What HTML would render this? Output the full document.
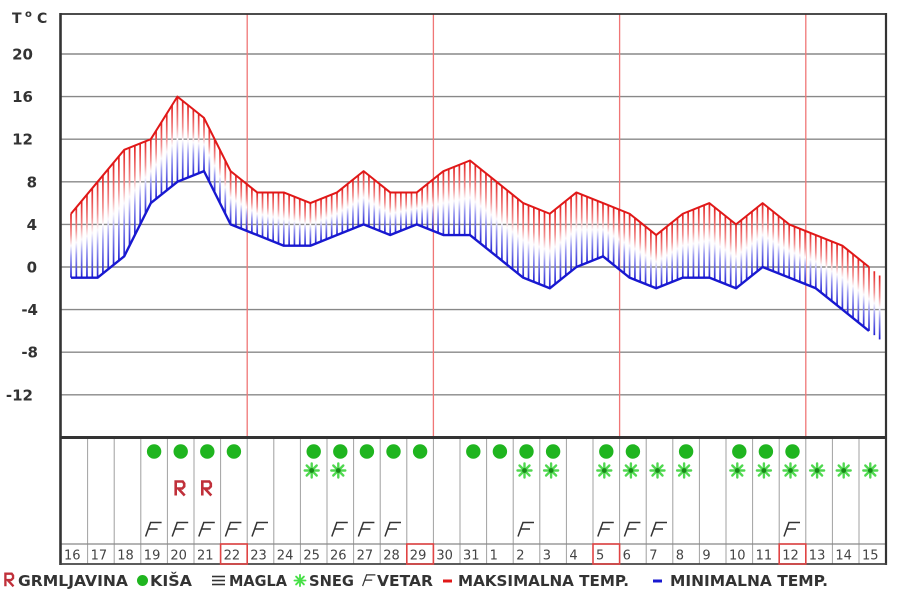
<!DOCTYPE html>
<html><head><meta charset="utf-8"><style>
html,body{margin:0;padding:0;background:#fff;}
svg{display:block;}
.ax{font-family:"DejaVu Sans","Liberation Sans",sans-serif;font-weight:bold;font-size:15px;fill:#333;}
.dt{font-family:"DejaVu Sans","Liberation Sans",sans-serif;font-size:13px;fill:#444;}
.lg{font-family:"DejaVu Sans","Liberation Sans",sans-serif;font-weight:bold;font-size:15px;fill:#333;}
</style></head><body>
<svg id="s" width="900" height="605" viewBox="0 0 900 605" xmlns="http://www.w3.org/2000/svg">
<defs>
<linearGradient id="hg" x1="0" y1="0" x2="0" y2="1">
<stop offset="0" stop-color="#e42020"/>
<stop offset="0.33" stop-color="#f29090"/>
<stop offset="0.5" stop-color="#fbf8fc"/>
<stop offset="0.67" stop-color="#9c9cf0"/>
<stop offset="1" stop-color="#2020d4"/>
</linearGradient>
<g id="rain"><circle cx="0" cy="0" r="7.2" fill="#1fb51f"/></g>
<g id="snow"><g stroke="#50d850" stroke-width="2.4" stroke-linecap="round"><line x1="-7" y1="0" x2="7" y2="0"/><line x1="0" y1="-7" x2="0" y2="7"/><line x1="-5" y1="-5" x2="5" y2="5"/><line x1="-5" y1="5" x2="5" y2="-5"/></g><circle r="2.4" fill="#1a8a1a"/></g>
<g id="thun"><path d="M-4,7 V-7 H3 L4.5,-5 V-2 L2.5,0 H-1.5 L5,7" fill="none" stroke="#c0303a" stroke-width="2.6" stroke-linejoin="miter"/></g>
<g id="wind"><path d="M-8,7 L-3,-7 H8 M-5.2,-0.5 H4" fill="none" stroke="#333" stroke-width="1.5"/></g>
</defs>

<g stroke="#888" stroke-width="1.4">
<line x1="61" y1="54" x2="886" y2="54"/>
<line x1="61" y1="96.6" x2="886" y2="96.6"/>
<line x1="61" y1="139.2" x2="886" y2="139.2"/>
<line x1="61" y1="181.8" x2="886" y2="181.8"/>
<line x1="61" y1="224.4" x2="886" y2="224.4"/>
<line x1="61" y1="267" x2="886" y2="267"/>
<line x1="61" y1="309.6" x2="886" y2="309.6"/>
<line x1="61" y1="352.2" x2="886" y2="352.2"/>
<line x1="61" y1="394.8" x2="886" y2="394.8"/>
</g>
<g stroke="#f07676" stroke-width="1.3">
<line x1="247.2" y1="14" x2="247.2" y2="436"/>
<line x1="433.4" y1="14" x2="433.4" y2="436"/>
<line x1="619.6" y1="14" x2="619.6" y2="436"/>
<line x1="805.8" y1="14" x2="805.8" y2="436"/>
</g>

<g id="hatch"></g>

<polyline fill="none" stroke="#e01818" stroke-width="2" stroke-linejoin="round" points="71,213.75 97.6,181.8 124.2,149.85 150.8,139.2 177.4,96.6 204,117.9 230.6,171.15 257.2,192.45 283.8,192.45 310.4,203.1 337,192.45 363.6,171.15 390.2,192.45 416.8,192.45 443.4,171.15 470,160.5 496.6,181.8 523.2,203.1 549.8,213.75 576.4,192.45 603,203.1 629.6,213.75 656.2,235.05 682.8,213.75 709.4,203.1 736,224.4 762.6,203.1 789.2,224.4 815.8,235.05 842.4,245.7 869,267"/>
<polyline fill="none" stroke="#1818d0" stroke-width="2.4" stroke-linejoin="round" points="71,277.65 97.6,277.65 124.2,256.35 150.8,203.1 177.4,181.8 204,171.15 230.6,224.4 257.2,235.05 283.8,245.7 310.4,245.7 337,235.05 363.6,224.4 390.2,235.05 416.8,224.4 443.4,235.05 470,235.05 496.6,256.35 523.2,277.65 549.8,288.3 576.4,267 603,256.35 629.6,277.65 656.2,288.3 682.8,277.65 709.4,277.65 736,288.3 762.6,267 789.2,277.65 815.8,288.3 842.4,309.6 869,330.9"/>

<g stroke="#a0a0a0" stroke-width="1">
<line x1="87.6" y1="439" x2="87.6" y2="564"/><line x1="114.2" y1="439" x2="114.2" y2="564"/><line x1="140.8" y1="439" x2="140.8" y2="564"/><line x1="167.4" y1="439" x2="167.4" y2="564"/><line x1="194" y1="439" x2="194" y2="564"/><line x1="220.6" y1="439" x2="220.6" y2="564"/><line x1="247.2" y1="439" x2="247.2" y2="564"/><line x1="273.8" y1="439" x2="273.8" y2="564"/><line x1="300.4" y1="439" x2="300.4" y2="564"/><line x1="327" y1="439" x2="327" y2="564"/><line x1="353.6" y1="439" x2="353.6" y2="564"/><line x1="380.2" y1="439" x2="380.2" y2="564"/><line x1="406.8" y1="439" x2="406.8" y2="564"/><line x1="433.4" y1="439" x2="433.4" y2="564"/><line x1="460" y1="439" x2="460" y2="564"/><line x1="486.6" y1="439" x2="486.6" y2="564"/><line x1="513.2" y1="439" x2="513.2" y2="564"/><line x1="539.8" y1="439" x2="539.8" y2="564"/><line x1="566.4" y1="439" x2="566.4" y2="564"/><line x1="593" y1="439" x2="593" y2="564"/><line x1="619.6" y1="439" x2="619.6" y2="564"/><line x1="646.2" y1="439" x2="646.2" y2="564"/><line x1="672.8" y1="439" x2="672.8" y2="564"/><line x1="699.4" y1="439" x2="699.4" y2="564"/><line x1="726" y1="439" x2="726" y2="564"/><line x1="752.6" y1="439" x2="752.6" y2="564"/><line x1="779.2" y1="439" x2="779.2" y2="564"/><line x1="805.8" y1="439" x2="805.8" y2="564"/><line x1="832.4" y1="439" x2="832.4" y2="564"/><line x1="859" y1="439" x2="859" y2="564"/>
</g>
<line x1="61" y1="544" x2="886" y2="544" stroke="#888" stroke-width="1.2"/>

<line x1="60" y1="14" x2="886" y2="14" stroke="#333" stroke-width="1.8"/>
<line x1="60.5" y1="13" x2="60.5" y2="565" stroke="#333" stroke-width="2.6"/>
<line x1="886" y1="13" x2="886" y2="565" stroke="#333" stroke-width="2.2"/>
<line x1="60" y1="437.5" x2="887" y2="437.5" stroke="#333" stroke-width="3"/>
<line x1="60" y1="564" x2="887" y2="564" stroke="#444" stroke-width="1.8"/>

<g fill="none" stroke="#e04444" stroke-width="1.6">
<rect x="220.6" y="544" width="26.6" height="20"/>
<rect x="406.8" y="544" width="26.6" height="20"/>
<rect x="593" y="544" width="26.6" height="20"/>
<rect x="779.2" y="544" width="26.6" height="20"/>
</g>

<text class="ax" x="12" y="23" style="font-size:14px">T</text>
<text class="ax" x="25" y="17" style="font-size:10px">o</text>
<text class="ax" x="37" y="23" style="font-size:14px">C</text>
<text class="ax" x="33" y="59.5" text-anchor="end">20</text>
<text class="ax" x="33" y="102" text-anchor="end">16</text>
<text class="ax" x="33" y="144.7" text-anchor="end">12</text>
<text class="ax" x="37" y="187.3" text-anchor="end">8</text>
<text class="ax" x="37" y="229.9" text-anchor="end">4</text>
<text class="ax" x="37" y="272.5" text-anchor="end">0</text>
<text class="ax" x="38" y="315.1" text-anchor="end">-4</text>
<text class="ax" x="38" y="357.7" text-anchor="end">-8</text>
<text class="ax" x="33" y="400.3" text-anchor="end">-12</text>

<g class="dt">
<text x="64" y="559.5">16</text><text x="90.6" y="559.5">17</text><text x="117.2" y="559.5">18</text><text x="143.8" y="559.5">19</text><text x="170.4" y="559.5">20</text><text x="197" y="559.5">21</text><text x="223.6" y="559.5">22</text><text x="250.2" y="559.5">23</text><text x="276.8" y="559.5">24</text><text x="303.4" y="559.5">25</text><text x="330" y="559.5">26</text><text x="356.6" y="559.5">27</text><text x="383.2" y="559.5">28</text><text x="409.8" y="559.5">29</text><text x="436.4" y="559.5">30</text><text x="463" y="559.5">31</text><text x="489.6" y="559.5">1</text><text x="516.2" y="559.5">2</text><text x="542.8" y="559.5">3</text><text x="569.4" y="559.5">4</text><text x="596" y="559.5">5</text><text x="622.6" y="559.5">6</text><text x="649.2" y="559.5">7</text><text x="675.8" y="559.5">8</text><text x="702.4" y="559.5">9</text><text x="729" y="559.5">10</text><text x="755.6" y="559.5">11</text><text x="782.2" y="559.5">12</text><text x="808.8" y="559.5">13</text><text x="835.4" y="559.5">14</text><text x="862" y="559.5">15</text>
</g>

<g>
<use href="#rain" x="154.1" y="451.5"/><use href="#rain" x="180.7" y="451.5"/><use href="#rain" x="207.3" y="451.5"/><use href="#rain" x="233.9" y="451.5"/><use href="#rain" x="313.7" y="451.5"/><use href="#rain" x="340.3" y="451.5"/><use href="#rain" x="366.9" y="451.5"/><use href="#rain" x="393.5" y="451.5"/><use href="#rain" x="420.1" y="451.5"/><use href="#rain" x="473.3" y="451.5"/><use href="#rain" x="499.9" y="451.5"/><use href="#rain" x="526.5" y="451.5"/><use href="#rain" x="553.1" y="451.5"/><use href="#rain" x="606.3" y="451.5"/><use href="#rain" x="632.9" y="451.5"/><use href="#rain" x="686.1" y="451.5"/><use href="#rain" x="739.3" y="451.5"/><use href="#rain" x="765.9" y="451.5"/><use href="#rain" x="792.5" y="451.5"/>
</g>
<g>
<use href="#snow" x="311.7" y="470.5"/><use href="#snow" x="338.3" y="470.5"/><use href="#snow" x="524.5" y="470.5"/><use href="#snow" x="551.1" y="470.5"/><use href="#snow" x="604.3" y="470.5"/><use href="#snow" x="630.9" y="470.5"/><use href="#snow" x="657.5" y="470.5"/><use href="#snow" x="684.1" y="470.5"/><use href="#snow" x="737.3" y="470.5"/><use href="#snow" x="763.9" y="470.5"/><use href="#snow" x="790.5" y="470.5"/><use href="#snow" x="817.1" y="470.5"/><use href="#snow" x="843.7" y="470.5"/><use href="#snow" x="870.3" y="470.5"/>
</g>
<use href="#thun" x="179.7" y="488.5"/><use href="#thun" x="206.3" y="488.5"/>
<g>
<use href="#wind" x="153.6" y="529.5"/><use href="#wind" x="180.2" y="529.5"/><use href="#wind" x="206.8" y="529.5"/><use href="#wind" x="233.4" y="529.5"/><use href="#wind" x="260" y="529.5"/><use href="#wind" x="339.8" y="529.5"/><use href="#wind" x="366.4" y="529.5"/><use href="#wind" x="393" y="529.5"/><use href="#wind" x="526" y="529.5"/><use href="#wind" x="605.8" y="529.5"/><use href="#wind" x="632.4" y="529.5"/><use href="#wind" x="659" y="529.5"/><use href="#wind" x="792" y="529.5"/>
</g>

<g transform="translate(9,580) scale(0.9)"><use href="#thun"/></g>
<text class="lg" x="18" y="586" textLength="110" lengthAdjust="spacingAndGlyphs">GRMLJAVINA</text>
<circle cx="142.5" cy="580.5" r="5.5" fill="#1fb51f"/>
<text class="lg" x="150" y="586" textLength="42" lengthAdjust="spacingAndGlyphs">KIŠA</text>
<g stroke="#333" stroke-width="1.6"><line x1="212" y1="576.5" x2="225" y2="576.5"/><line x1="212" y1="580.5" x2="225" y2="580.5"/><line x1="212" y1="584.5" x2="225" y2="584.5"/></g>
<text class="lg" x="229" y="586" textLength="58" lengthAdjust="spacingAndGlyphs">MAGLA</text>
<g transform="translate(300,580.5) scale(0.85)"><g stroke="#48e048" stroke-width="2.2" stroke-linecap="round"><line x1="-6.5" y1="0" x2="6.5" y2="0"/><line x1="0" y1="-6.5" x2="0" y2="6.5"/><line x1="-4.6" y1="-4.6" x2="4.6" y2="4.6"/><line x1="-4.6" y1="4.6" x2="4.6" y2="-4.6"/></g></g>
<text class="lg" x="309" y="586" textLength="45" lengthAdjust="spacingAndGlyphs">SNEG</text>
<g transform="translate(369,580.5) scale(0.8)"><use href="#wind"/></g>
<text class="lg" x="377" y="586" textLength="56" lengthAdjust="spacingAndGlyphs">VETAR</text>
<rect x="443" y="579.5" width="9" height="3" fill="#e01818"/>
<text class="lg" x="458" y="586" textLength="171" lengthAdjust="spacingAndGlyphs">MAKSIMALNA TEMP.</text>
<rect x="653" y="579.5" width="9" height="3" fill="#1818d0"/>
<text class="lg" x="670" y="586" textLength="158" lengthAdjust="spacingAndGlyphs">MINIMALNA TEMP.</text>
</svg>
<script>
(function(){
var mx=[5,8,11,12,16,14,9,7,7,6,7,9,7,7,9,10,8,6,5,7,6,5,3,5,6,4,6,4,3,2,0];
var mn=[-1,-1,1,6,8,9,4,3,2,2,3,4,3,4,3,3,1,-1,-2,0,1,-1,-2,-1,-1,-2,0,-1,-2,-4,-6];
function Y(t){return 267-t*10.65;}
function I(a,x){var f=(x-71)/26.6;var i=Math.floor(f);if(i>a.length-2)i=a.length-2;if(i<0)i=0;var r=f-i;return a[i]+(a[i+1]-a[i])*r;}
var g=document.getElementById('hatch');var ns='http://www.w3.org/2000/svg';
for(var x=71;x<=883;x+=5.32){
var t=Y(I(mx,x)),b=Y(I(mn,x));
var r=document.createElementNS(ns,'rect');
r.setAttribute('x',(x-0.85).toFixed(2));r.setAttribute('y',t.toFixed(2));
r.setAttribute('width','1.7');r.setAttribute('height',(b-t).toFixed(2));
r.setAttribute('fill','url(#hg)');g.appendChild(r);}
})();
</script>
</body></html>
